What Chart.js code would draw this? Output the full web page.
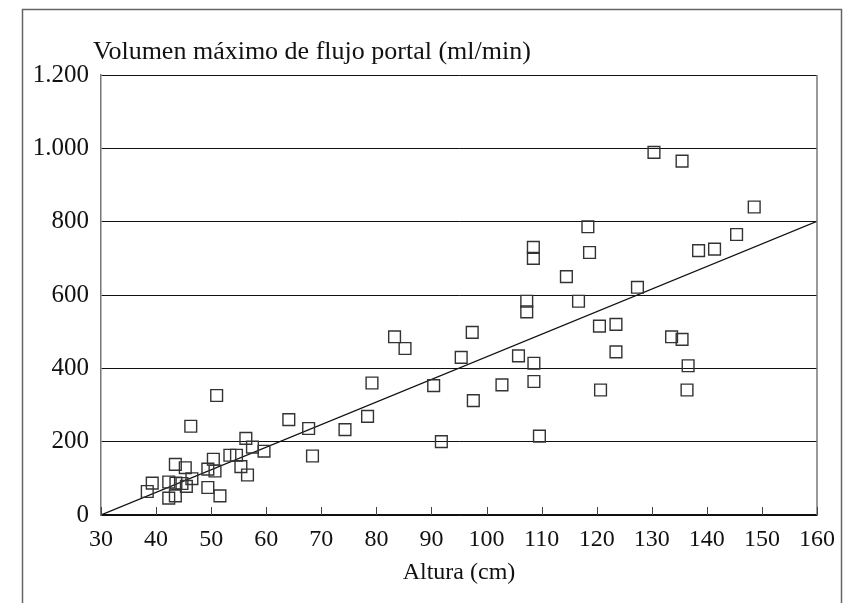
<!DOCTYPE html>
<html>
<head>
<meta charset="utf-8">
<script src="https://cdn.jsdelivr.net/npm/chart.js@4/dist/chart.umd.min.js"></script>
<style>
  html, body { margin: 0; padding: 0; background: #fff; }
  #wrap { position: relative; width: 845px; height: 603px; }
</style>
</head>
<body>
<div id="wrap"><canvas id="grafico" width="845" height="603"></canvas></div>
<script>
// Altura (cm) y volumen máximo de flujo portal (ml/min)
var alturas = [51.0, 46.3, 64.1, 67.7, 56.3, 57.5, 59.6, 68.4, 53.4, 54.6, 50.4, 43.5, 45.3, 49.4, 50.7, 55.4, 56.6,
    46.5, 39.3, 38.4, 42.3, 43.6, 44.7, 45.5, 49.4, 42.3, 43.5, 51.6,
    83.3, 85.2, 97.4, 95.4, 105.8, 79.2, 90.4, 102.8, 97.6, 74.3, 78.4, 91.8,
    118.4, 108.5, 108.5, 118.7, 114.5, 127.4, 107.3, 107.3, 116.7, 120.5, 123.5, 123.5, 108.6, 108.6, 120.7, 109.6,
    130.4, 135.5, 148.6, 145.4, 138.5, 141.4, 133.6, 135.5, 136.6, 136.4]
var volumenes = [326, 242, 260, 236, 209, 185, 174, 161, 163, 163, 152, 138, 129, 125, 120, 132, 109,
    99, 87, 64, 90, 87, 86, 78, 75, 46, 52, 52,
    486, 454, 498, 430, 434, 360, 353, 355, 312, 233, 269, 200,
    786, 730, 700, 716, 650, 621, 583, 554, 583, 515, 520, 445, 414, 364, 341, 215,
    989, 965, 840, 765, 721, 725, 486, 479, 407, 341]

// recta de regresión
var rectaX = [30, 160]
var rectaY = [0, 801]

var tituloY = "Volumen máximo de flujo portal (ml/min)"
var tituloX = "Altura (cm)"

var FUENTE = "'Liberation Serif', 'Times New Roman', serif"

var puntos = alturas.map((x, i) => ({ x: x, y: volumenes[i] }))
var recta = rectaX.map((x, i) => ({ x: x, y: rectaY[i] }))

function miles(v) {
    return String(v).replace(/(\d)(\d{3})$/, '$1.$2')
}

var extras = {
    id: 'extras',
    beforeDraw: function (chart) {
        var ctx = chart.ctx
        ctx.save()
        ctx.strokeStyle = '#666'
        ctx.lineWidth = 1.5
        ctx.beginPath()
        ctx.moveTo(22.5, 620)
        ctx.lineTo(22.5, 9.5)
        ctx.lineTo(841.5, 9.5)
        ctx.lineTo(841.5, 620)
        ctx.stroke()
        ctx.restore()
    },
    afterDraw: function (chart) {
        var ctx = chart.ctx
        var a = chart.chartArea
        var sx = chart.scales.x
        ctx.save()
        // marco derecho
        ctx.strokeStyle = '#777'
        ctx.lineWidth = 1.5
        ctx.beginPath()
        ctx.moveTo(a.right, a.top)
        ctx.lineTo(a.right, a.bottom)
        ctx.stroke()
        // marcas hacia dentro en el eje x
        ctx.strokeStyle = '#444'
        ctx.lineWidth = 1
        sx.ticks.forEach(t => {
            var px = Math.round(sx.getPixelForValue(t.value)) + 0.5
            ctx.beginPath()
            ctx.moveTo(px, a.bottom)
            ctx.lineTo(px, a.bottom - 8)
            ctx.stroke()
        })
        // título del eje y
        ctx.fillStyle = '#111'
        ctx.font = "26px " + FUENTE
        ctx.textAlign = 'left'
        ctx.textBaseline = 'middle'
        ctx.fillText(tituloY, a.left - 8, a.top - 23)
        ctx.restore()
    }
}

new Chart(document.getElementById('grafico'), {
    type: 'scatter',
    data: {
        datasets: [{
            data: puntos,
            pointStyle: 'rect',
            radius: 8.3,
            hoverRadius: 8.3,
            borderColor: '#333',
            borderWidth: 1.4,
            backgroundColor: 'rgba(0,0,0,0)'
        }, {
            type: 'line',
            data: recta,
            borderColor: '#111',
            borderWidth: 1.2,
            pointRadius: 0,
            fill: false
        }]
    },
    options: {
        responsive: false,
        animation: false,
        events: [],
        layout: { padding: { top: 75, right: 21, left: 0, bottom: 0 } },
        plugins: { legend: { display: false }, tooltip: { enabled: false } },
        scales: {
            x: {
                type: 'linear',
                min: 30,
                max: 160,
                ticks: { stepSize: 10, color: '#111', font: { family: FUENTE, size: 24 }, padding: 10, maxRotation: 0, autoSkip: false },
                grid: { display: true, drawOnChartArea: false, drawTicks: false },
                border: { display: true, color: '#111', width: 1.5 },
                title: { display: true, text: tituloX, color: '#111', font: { family: FUENTE, size: 24 }, padding: { top: 0, bottom: 16 } },
                afterFit: function (s) { s.height = 88 }
            },
            y: {
                min: 0,
                max: 1200,
                ticks: { stepSize: 200, color: '#111', font: { family: FUENTE, size: 25 }, padding: 12, callback: v => miles(v) },
                grid: { color: '#111', lineWidth: 1, drawTicks: false },
                border: { display: true, color: '#777', width: 1.5 },
                afterFit: function (s) { s.width = 101 }
            }
        }
    },
    plugins: [extras]
})
</script>
</body>
</html>
